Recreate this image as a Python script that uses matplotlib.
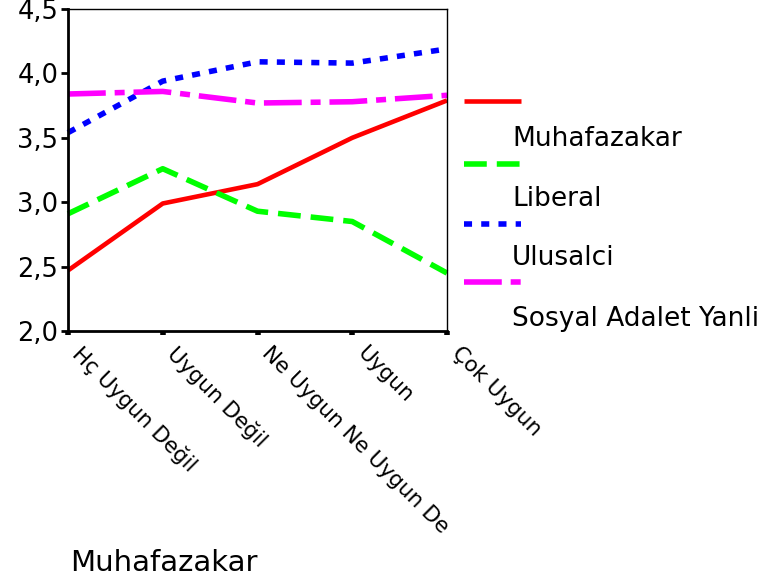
import matplotlib
matplotlib.use("Agg")
import matplotlib.pyplot as plt
import matplotlib.transforms as mtransforms
from matplotlib.lines import Line2D

categories = ["Hç Uygun Değil", "Uygun Değil", "Ne Uygun Ne Uygun De", "Uygun", "Çok Uygun"]
series_names = ["Muhafazakar", "Liberal", "Ulusalci", "Sosyal Adalet Yanli"]
muhafazakar = [2.47, 2.99, 3.14, 3.50, 3.79]
liberal = [2.91, 3.26, 2.93, 2.85, 2.45]
ulusalci = [3.54, 3.94, 4.09, 4.08, 4.19]
sosyal = [3.84, 3.86, 3.77, 3.78, 3.83]
y_ticks = [2.0, 2.5, 3.0, 3.5, 4.0, 4.5]
y_tick_labels = ["2,0", "2,5", "3,0", "3,5", "4,0", "4,5"]
x_title = "Muhafazakar"

plt.rcParams['font.family'] = ['DejaVu Sans']

fig = plt.figure(figsize=(7.78, 5.82), dpi=100)
W, H = 778, 582
ax = fig.add_axes([68 / W, 1 - 331 / H, (447 - 68) / W, (331 - 9) / H])

styles = [
    dict(color='#ff0000', linestyle='-', linewidth=3.3),
    dict(color='#00ff00', linestyle=(0, (4.1, 1.8)), linewidth=4.0),
    dict(color='#0000ff', linestyle=(0, (1.45, 1.65)), linewidth=4.0),
    dict(color='#ff00ff', linestyle=(0, (6.8, 1.6, 1.8, 1.6)), linewidth=4.0),
]
data = [muhafazakar, liberal, ulusalci, sosyal]
x = list(range(len(categories)))
for vals, st, name in zip(data, styles, series_names):
    ax.plot(x, vals, label=name, solid_capstyle='butt', dash_capstyle='butt',
            clip_on=False, **st)

ax.set_xlim(0, len(categories) - 1)
ax.set_ylim(2.0, 4.5)
ax.set_yticks(y_ticks)
ax.set_yticklabels(y_tick_labels, fontsize=18.5)
ax.set_xticks(x)
ax.set_xticklabels([])
ax.tick_params(axis='y', direction='out', length=5, width=2, pad=2)
ax.tick_params(axis='x', direction='out', length=3, width=4)
for s in ['left', 'bottom']:
    ax.spines[s].set_linewidth(2)
for s in ['top', 'right']:
    ax.spines[s].set_linewidth(1)

# rotated category labels
blend = mtransforms.blended_transform_factory(ax.transData, ax.transAxes)
offset = mtransforms.ScaledTranslation(15 / 100, -12 / 100, fig.dpi_scale_trans)
for xi, lab in zip(x, categories):
    ax.text(xi, 0, lab, transform=blend + offset, fontsize=15.5, rotation=-45,
            ha='left', va='top', rotation_mode='anchor', clip_on=False)

fig.text(70 / W, 1 - 563 / H, x_title, fontsize=21, ha='left', va='center')

# legend (handle above label, SPSS style)
handle_y = [101, 164, 224, 282]
label_y = [139, 199, 258, 319]
for st, name, hy, ly in zip(styles, series_names, handle_y, label_y):
    fig.add_artist(Line2D([464 / W, 521 / W], [1 - hy / H, 1 - hy / H],
                          transform=fig.transFigure, solid_capstyle='butt',
                          dash_capstyle='butt', **st))
    fig.text(512 / W, 1 - ly / H, name, fontsize=19, ha='left', va='center')

fig.savefig("out.png", dpi=100)
